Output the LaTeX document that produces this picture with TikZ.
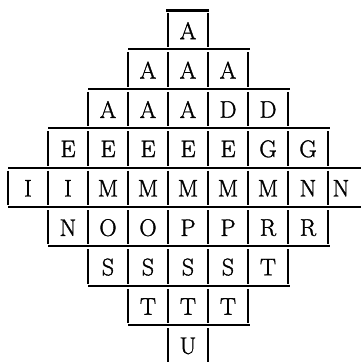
\documentclass[tikz,border=0pt]{standalone}
\usepackage{fontspec}
\newfontfamily\cellfont{Latin Modern Roman}[FakeBold=1.4]
\begin{document}
\begin{tikzpicture}[x=1pt,y=-1pt,
  hline/.style={line width=2.1pt},
  vbar/.style={line width=1.8pt},
  letter/.style={inner sep=0pt,font=\cellfont\fontsize{24}{26}\selectfont}]
\useasboundingbox (0,0) rectangle (361,362);
\def\rh{39.4}
% rows: index / number of cells / letters
\foreach \r/\n/\letters in {1/1/{A},2/3/{A,A,A},3/5/{A,A,A,D,D},4/7/{E,E,E,E,E,G,G},5/9/{I,I,M,M,M,M,M,N,N},6/7/{N,O,O,P,P,R,R},7/5/{S,S,S,S,T},8/3/{T,T,T},9/1/{U}}{
  \pgfmathsetmacro{\yt}{10+(\r-1)*\rh}
  \pgfmathsetmacro{\yb}{\yt+\rh}
  \pgfmathsetmacro{\yc}{\yt+\rh/2+1}
  \pgfmathsetmacro{\xl}{188-\n*20}
  \foreach \L [count=\c] in \letters {
    \pgfmathsetmacro{\xc}{\xl+(\c-1)*40+20}
    \ifnum\r=5 \ifnum\c=9 \pgfmathsetmacro{\xc}{341}\fi\fi
    \node[letter] (r\r c\c) at (\xc,\yc) {\L};
    \pgfmathsetmacro{\xv}{\xl+(\c-1)*40}
    \draw[vbar] (\xv,\yt+3) -- (\xv,\yb-2);
  }
  % closing bar on the right (not for the middle row)
  \ifnum\r=5\else
    \pgfmathsetmacro{\xr}{188+\n*20}
    \draw[vbar] (\xr,\yt+3) -- (\xr,\yb-2);
  \fi
}
% horizontal rules
\draw[hline] (166,10.5) -- (209,10.5);
\draw[hline] (128,49.4) -- (250,49.4);
\draw[hline] (88,88.8) -- (290,88.8);
\draw[hline] (48,128.2) -- (330,128.2);
\draw[hline] (8,167.6) -- (361,167.6);
\draw[hline] (8,207) -- (361,207);
\draw[hline] (48,246.4) -- (330,246.4);
\draw[hline] (88,285.8) -- (290,285.8);
\draw[hline] (128,325.2) -- (250,325.2);
\end{tikzpicture}
\end{document}
